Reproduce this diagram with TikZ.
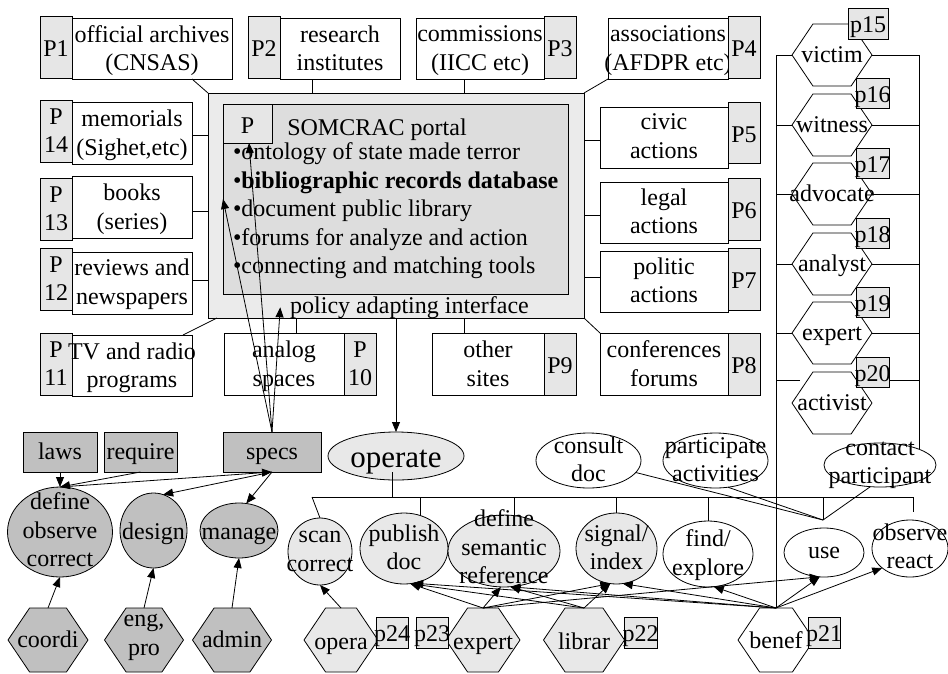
\documentclass[tikz,border=0pt]{standalone}
\usepackage{fontspec}
\setmainfont{Liberation Serif}
\usetikzlibrary{shapes.geometric,shapes.symbols,arrows.meta}

\definecolor{tagfill}{HTML}{E6E6E6}
\definecolor{outerfill}{HTML}{EBEBEB}
\definecolor{innerfill}{HTML}{DDDDDD}
\definecolor{darkfill}{HTML}{C0C0C0}
\definecolor{lightfill}{HTML}{E8E8E8}

% shape node (empty) plus its centred text node, so text never resizes the shape
% #1 style, #2 name, #3 x, #4 y, #5 width, #6 height, #7 text shift, #8 text
\newcommand\shp[8]{%
  \node[#1, minimum width=#5pt, minimum height=#6pt] (#2) at (#3,#4) {};
  \node[txt] (#2-t) at ([yshift=#7pt]#2.center) {#8};}

\begin{document}
\begin{tikzpicture}[x=1pt, y=-1pt, line width=0.8pt,
  every node/.style={font=\fontsize{24pt}{28.5pt}\selectfont, inner sep=0pt, outer sep=0pt},
  txt/.style={align=center, execute at begin node=\strut, execute at end node=\strut},
  plainbox/.style={draw, rectangle, fill=white},
  tagbox/.style={draw, rectangle, fill=tagfill},
  darkbox/.style={draw, rectangle, fill=darkfill},
  oval/.style={draw, ellipse, fill=white},
  lightoval/.style={oval, fill=lightfill},
  darkoval/.style={oval, fill=darkfill},
  hexa/.style={draw, fill=white, signal, signal to=east and west, signal pointer angle=112},
  lighthexa/.style={hexa, fill=lightfill},
  darkhexa/.style={hexa, fill=darkfill},
  arr/.style={-{Triangle[length=10pt,width=8pt]}},
]
\path[fill=white] (0,0) rectangle (948,673);
\useasboundingbox (0,0) rectangle (948,673);

% ---------- portal ----------
\node[draw, fill=outerfill, minimum width=376pt, minimum height=225pt] (portal) at (396,205.5) {};
\node[draw, fill=innerfill, minimum width=345pt, minimum height=190pt] (inner) at (395.5,199) {};
\shp{tagbox}{pbox}{247.5}{123.5}{49}{39}{-4}{P}
\node[txt] (title) at (377,130) {SOMCRAC portal};
\node[txt, align=left, anchor=north west] (features) at (233,143)
  {•ontology of state made terror\\
   •\textbf{bibliographic records database}\\
   •document public library\\
   •forums for analyze and action\\
   •connecting and matching tools};
\node[txt] (policy) at (409.5,307.3) {policy adapting interface};

% ---------- top row ----------
\shp{tagbox}{t1}{56}{47}{32}{62}{-4}{P1}
\shp{plainbox}{b1}{152}{48.5}{160}{61}{-4}{official archives\\(CNSAS)}
\shp{tagbox}{t2}{264}{47}{32}{62}{-4}{P2}
\shp{plainbox}{b2}{340}{48.5}{120}{61}{-4}{research\\institutes}
\shp{plainbox}{b3}{480}{48.5}{128}{61}{-4}{commissions\\(IICC etc)}
\shp{tagbox}{t3}{560}{47}{32}{62}{-4}{P3}
\shp{plainbox}{b4}{668}{48.5}{120}{61}{-4}{associations\\(AFDPR etc)}
\shp{tagbox}{t4}{744}{47}{32}{62}{-4}{P4}

% ---------- left column ----------
\shp{tagbox}{t14}{56}{131}{32}{62}{-4}{P\\14}
\shp{plainbox}{b14}{132}{133}{120}{62}{-4}{memorials\\(Sighet,etc)}
\shp{tagbox}{t13}{56}{209}{32}{62}{-4}{P\\13}
\shp{plainbox}{b13}{132}{207}{120}{62}{-4}{books\\(series)}
\shp{tagbox}{t12}{56}{279}{32}{62}{-4}{P\\12}
\shp{plainbox}{b12}{132}{283}{120}{62}{-3}{reviews and\\newspapers}
\shp{tagbox}{t11}{56}{364}{32}{62}{-4}{P\\11}
\shp{plainbox}{b11}{132}{365.5}{120}{61}{-4}{TV and radio\\programs}

% ---------- right column ----------
\shp{plainbox}{b5}{664}{137.5}{128}{61}{-3}{civic\\actions}
\shp{tagbox}{t5}{744}{132.5}{32}{61}{-4}{P5}
\shp{plainbox}{b6}{664}{212.5}{128}{61}{-3}{legal\\actions}
\shp{tagbox}{t6}{744}{209}{32}{62}{-4}{P6}
\shp{plainbox}{b7}{664}{281.5}{128}{61}{-3}{politic\\actions}
\shp{tagbox}{t7}{744}{279}{32}{62}{-4}{P7}
\shp{plainbox}{b8}{664}{364}{128}{62}{-4}{conferences\\forums}
\shp{tagbox}{t8}{744}{364}{32}{62}{-4}{P8}

% ---------- lower row under the portal ----------
\shp{plainbox}{b10}{284}{364}{120}{62}{-4}{analog\\spaces}
\shp{tagbox}{t10}{360}{364}{32}{62}{-4}{P\\10}
\shp{plainbox}{b9}{488}{364}{112}{62}{-4}{other\\sites}
\shp{tagbox}{t9}{560}{364}{32}{62}{-4}{P9}

% links between the portal and its partners
\draw ([xshift=40pt]b1.south) -- (portal.north west);
\draw ([xshift=-28pt]b2.south) -- ([xshift=-28pt]b2.south |- portal.north);
\draw ([xshift=-16pt]b3.south) -- ([xshift=-16pt]b3.south |- portal.north);
\draw (b4.south west) -- (portal.north east);
\draw ([yshift=-2pt]b14.east) -- ([yshift=-2pt]b14.east -| portal.west);
\draw ([yshift=-4pt]b13.east) -- ([yshift=-4pt]b13.east -| portal.west);
\draw ([yshift=3pt]b12.east) -- ([yshift=3pt]b12.east -| portal.west);
\draw ([xshift=51pt]b11.north) -- ([xshift=9pt]portal.south west);
\draw ([xshift=12pt]b10.north) -- ([xshift=12pt]b10.north |- portal.south);
\draw ([xshift=-24pt]b9.north) -- ([xshift=-24pt]b9.north |- portal.south);
\draw (portal.south east) -- (b8.north west);
\draw ([yshift=-2.5pt]b5.west) -- ([yshift=-2.5pt]b5.west -| portal.east);
\draw ([yshift=-2.5pt]b6.west) -- ([yshift=-2.5pt]b6.west -| portal.east);
\draw ([yshift=4.5pt]b7.west) -- ([yshift=4.5pt]b7.west -| portal.east);

% ---------- participant hexagons ----------
\shp{hexa}{victim}{832}{55}{80}{62}{-2}{victim}
\shp{hexa}{witness}{832}{125}{80}{62}{-2}{witness}
\shp{hexa}{advocate}{832}{194}{80}{62}{-2}{advocate}
\shp{hexa}{analyst}{832}{264}{80}{62}{-2}{analyst}
\shp{hexa}{rexpert}{832}{333}{80}{62}{-2}{expert}
\shp{hexa}{activist}{832}{403}{80}{62}{-2}{activist}
\shp{tagbox}{p15}{868}{23.5}{40}{31}{-3.5}{p15}
\shp{tagbox}{p16}{872.5}{93}{33}{30}{-3.5}{p16}
\shp{tagbox}{p17}{872.5}{163}{33}{30}{-3.5}{p17}
\shp{tagbox}{p18}{872.5}{233}{33}{30}{-3.5}{p18}
\shp{tagbox}{p19}{872.5}{302}{33}{30}{-3.5}{p19}
\shp{tagbox}{p20}{872.5}{372}{33}{30}{-3.5}{p20}

% ---------- design / management side ----------
\shp{darkbox}{laws}{60}{452}{74}{40}{-2}{laws}
\shp{darkbox}{require}{140.5}{452}{73}{40}{-2}{require}
\shp{darkbox}{specs}{272}{452}{98}{40}{-2}{specs}
\shp{darkoval}{define}{60}{532}{105}{90}{-2}{define\\observe\\correct}
\shp{darkoval}{design}{153.5}{530.5}{67}{75}{-3}{design}
\shp{darkoval}{manage}{239}{530.5}{78}{55}{-3}{manage}
\shp{darkhexa}{coordi}{48}{640}{80}{64}{-2}{coordi}
\shp{darkhexa}{engpro}{144}{640}{79}{64}{1}{eng,\\pro}
\shp{darkhexa}{admin}{232}{640}{79}{64}{-2}{admin}

% ---------- operation side ----------
\node[lightoval, minimum width=136pt, minimum height=48pt] (operate) at (396,456) {};
\node[font=\fontsize{31pt}{36pt}\selectfont, anchor=base] (operate-t) at (396,467) {operate};
\shp{oval}{consult}{588.5}{460.5}{105}{55}{-3}{consult\\doc}
\shp{oval}{participate}{715.5}{460.5}{105}{55}{-3.5}{participate\\activities}
\shp{oval}{contact}{880}{465}{112}{44}{-2}{contact\\participant}
\shp{lightoval}{scan}{320}{551.5}{64}{67}{-4}{scan\\correct}
\shp{lightoval}{publish}{404}{548.5}{88}{71}{-3}{publish\\doc}
\shp{lightoval}{defsem}{504}{551}{112}{72}{0}{define\\semantic\\reference}
\shp{lightoval}{sigidx}{616.5}{548.5}{81}{71}{-3}{signal/\\index}
\shp{oval}{find}{708}{554}{90}{66}{-3}{find/\\explore}
\shp{oval}{use}{824}{552.5}{80}{49}{0}{use}
\shp{oval}{observe}{910}{548.5}{76}{57}{-2}{observe\\react}
\shp{lighthexa}{opera}{341}{640}{74}{64}{-4}{opera}
\shp{lighthexa}{bexpert}{483}{640}{74}{64}{-4}{expert}
\shp{lighthexa}{librar}{584}{640}{81}{64}{-4}{librar}
\shp{hexa}{benef}{776}{640}{76}{64}{-2.5}{benef}
\shp{tagbox}{p24}{392}{632.5}{32}{31}{-3.5}{p24}
\shp{tagbox}{p23}{432}{632.5}{32}{31}{-3.5}{p23}
\shp{tagbox}{p22}{640.5}{632.5}{33}{31}{-3.5}{p22}
\shp{tagbox}{p21}{824}{632.5}{32}{31}{-3.5}{p21}

% participant column links
\draw (victim.west) -| (benef.north);
\foreach \h in {witness,advocate,analyst,rexpert}
  \draw (\h.west) -- (\h.west -| benef.north);
\coordinate (actL) at (800,380);
\draw (actL) -- (actL -| benef.north);
\draw (victim.east) -| (contact.north east);
\foreach \h in {witness,advocate,analyst,rexpert}
  \draw (\h.east) -- (\h.east -| contact.north east);
\draw ([yshift=-8pt]p20.east) -- ([yshift=-8pt]p20.east -| contact.north east);

% operation bus
\coordinate (busL) at (312,497);
\coordinate (busR) at (913,497);
\coordinate (usejoin) at (823,520);
\coordinate (obsend) at (913,512);
\draw (busL) -- (busR);
\draw ([xshift=-4pt,yshift=8pt]operate.south) -- ([xshift=-4pt]operate.south |- busL);
\draw (busL) -- (scan.north);
\draw (publish.63 |- busL) -- (publish.63);
\draw (defsem.73 |- busL) -- (defsem.73);
\draw (sigidx.north |- busL) -- (sigidx.north);
\draw (find.north |- busL) -- (find.north);
\draw (usejoin |- busL) -- (usejoin);
\draw (busR) -- (obsend);
\draw (consult) -- (usejoin);
\draw (participate.-65) -- (usejoin);
\draw (contact.-114) -- (usejoin);

% arrows
\draw[arr] (specs.north) -- (inner.west);
\draw[arr] (specs.north) -- ([xshift=1.5pt]pbox.south);
\draw[arr] (specs.north) -- ([xshift=-10pt]policy.west);
\draw[arr] (portal.south) -- (operate.north);
\draw[arr] (laws.south) -- (define.north);
\draw[arr] (require.south) -- (define.north);
\draw[arr] (define.north) -- (specs.south);
\draw[arr] (specs.south) -- (design.75);
\draw[arr] (specs.south) -- (manage.75);
\draw[arr] (coordi.north) -- (define.south);
\draw[arr] (engpro.north) -- (design.south);
\draw[arr] (admin.north) -- (manage.south);
\draw[arr] (opera.north) -- (scan.south);
\draw[arr] (bexpert.north) -- (publish.-80);
\draw[arr] (bexpert.north) -- (defsem.-95);
\draw[arr] (bexpert.north) -- (sigidx.-100);
\draw[arr] (bexpert.north) -- (use.-100);
\draw[arr] (librar.north) -- (publish.-80);
\draw[arr] (librar.north) -- (defsem.-80);
\draw[arr] (librar.north) -- (sigidx.-100);
\draw[arr] (benef.north) -- (publish.-75);
\draw[arr] (benef.north) -- (defsem.-80);
\draw[arr] (benef.north) -- (sigidx.-80);
\draw[arr] (benef.north) -- (find.-80);
\draw[arr] (benef.north) -- (use.-100);
\draw[arr] (benef.north) -- (observe.-145);
\end{tikzpicture}
\end{document}
